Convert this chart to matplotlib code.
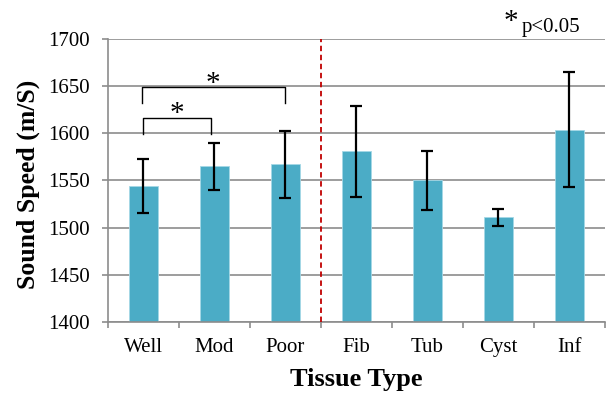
import numpy as np
import matplotlib
matplotlib.use('Agg')
import matplotlib.pyplot as plt

plt.rcParams['font.family'] = ['Liberation Serif', 'DejaVu Serif']

# data
tissue = ['Well', 'Mod', 'Poor', 'Fib', 'Tub', 'Cyst', 'Inf']
speed = [1544, 1565, 1567, 1581, 1550, 1511, 1604]
speed_err = [29, 25, 36, 48, 31, 9, 61]
yticks = [1400, 1450, 1500, 1550, 1600, 1650, 1700]

fig = plt.figure(figsize=(6.07, 3.96), dpi=100)
ax = fig.add_axes([0.1776, 0.1876, 0.8188, 0.7132])

x = np.arange(len(tissue))
grid_col = '#8c8c8c'

ax.bar(x, speed, width=0.4, color='#4bacc6', edgecolor='#a5d8e6', linewidth=0.6, zorder=2)
ax.errorbar(x, speed, yerr=speed_err, fmt='none', ecolor='black',
            elinewidth=1.6, capsize=4.5, capthick=1.6, zorder=3)

ax.set_xlim(-0.5, len(tissue) - 0.5)
ax.set_ylim(1400, 1700)
ax.set_yticks(yticks)
ax.set_yticklabels([str(v) for v in yticks], fontsize=15)
ax.yaxis.grid(True, color=grid_col, linewidth=1.2, zorder=0)
ax.set_axisbelow(True)

ax.set_xticks(x)
ax.set_xticklabels(tissue, fontsize=15)
ax.tick_params(axis='x', length=0, pad=12)
ax.set_xticks(np.arange(-0.5, len(tissue)), minor=True)
ax.tick_params(axis='x', which='minor', length=4, color=grid_col, width=1.2)
ax.tick_params(axis='y', length=4, color=grid_col, width=1.2, pad=9)

for s in ['top', 'right']:
    ax.spines[s].set_visible(False)
for s in ['left', 'bottom']:
    ax.spines[s].set_color(grid_col)
    ax.spines[s].set_linewidth(1.2)

ax.set_xlabel('Tissue Type', fontsize=19, fontweight='bold', labelpad=8)
ax.set_ylabel('Sound Speed (m/S)', fontsize=18.5, fontweight='bold', labelpad=6)
ax.yaxis.label.set_y(0.485)

# divider between groups
ax.axvline(2.5, color='#c00000', linestyle=(0, (3, 2)), linewidth=1.3, zorder=4)

# significance brackets
def bracket(x0, x1, y_top, y_leg, label_y):
    ax.plot([x0, x0, x1, x1], [y_leg, y_top, y_top, y_leg], color='black',
            linewidth=1.0, zorder=4, solid_joinstyle='round')
    ax.text((x0 + x1) / 2, label_y, '*', ha='center', va='center', fontsize=21)

bracket(0.0, 0.96, 1616, 1599, 1621)
bracket(-0.02, 1.99, 1649, 1632, 1652)

fig.text(0.842, 0.945, '*', fontsize=21, ha='center', va='center')
fig.text(0.86, 0.930, 'p<0.05', fontsize=15, ha='left', va='center')

fig.savefig('out.png', dpi=100)
